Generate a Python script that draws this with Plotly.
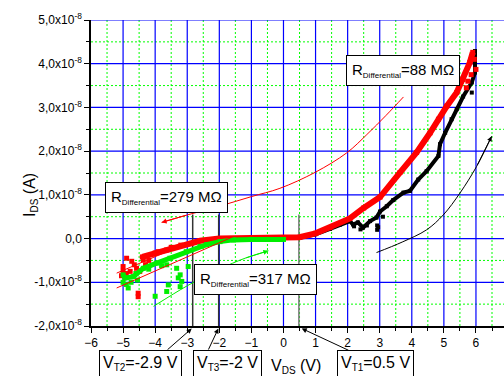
import plotly.graph_objects as go

# ---- data (I_DS in units of 1e-8 A, V_DS in V) ----
BLACK_X = [0.5, 1.0, 1.45, 1.76, 2.07, 2.17, 2.32, 2.48, 2.7, 2.9, 3.01, 3.22, 3.42, 3.74, 3.94, 4.2, 4.46, 4.83, 4.88, 5.04, 5.24, 5.4, 5.6, 5.87, 5.97, 5.97, 5.97]
BLACK_Y = [0.02, 0.1, 0.22, 0.32, 0.4, 0.32, 0.37, 0.25, 0.4, 0.48, 0.62, 0.74, 0.88, 1.05, 1.09, 1.35, 1.54, 1.89, 2.16, 2.42, 2.73, 2.96, 3.25, 3.57, 3.8, 4.03, 4.29]
BLACK_DOTS_X = [2.92, 2.92, 2.95, 2.4, 2.2, 5.87, 2.6, 3.1]
BLACK_DOTS_Y = [0.3, 0.2, 0.26, 0.21, 0.28, 3.34, 0.3, 0.5]

RED_X = [-4.4, -4.0, -3.64, -3.2, -2.6, -2.0, -1.0, 0.0, 0.5, 1.0, 1.45, 2.07, 2.5, 3.01, 3.63, 4.15, 4.57, 4.83, 5.09, 5.4, 5.6, 5.81, 5.9]
RED_Y = [-0.42, -0.33, -0.26, -0.15, -0.05, 0.0, 0.0, 0.01, 0.03, 0.12, 0.25, 0.46, 0.7, 0.95, 1.51, 1.97, 2.42, 2.73, 3.03, 3.34, 3.64, 4.03, 4.26]
RED_DOTS_X = [-5.0, -4.89, -4.73, -4.58, -4.78, -4.48, -4.53, -4.53, -4.37, -5.0, -4.9, -4.65, -4.2, -3.9, -5.05, 6.0, 5.75, 5.95, 5.7, 5.85, -4.3, -3.5]
RED_DOTS_Y = [-0.64, -0.45, -0.52, -0.68, -0.75, -0.75, -1.33, -1.25, -0.49, -0.75, -0.8, -0.6, -0.5, -0.3, -0.85, 3.87, 3.6, 4.1, 3.45, 3.75, -0.6, -0.2]

GREEN_X = [-5.0, -4.94, -4.68, -4.37, -3.95, -3.54, -3.03, -2.6, -2.4, -1.98, -1.56, -1.0, -0.5, 0.0]
GREEN_Y = [-0.83, -0.9, -0.87, -0.68, -0.56, -0.45, -0.3, -0.18, -0.14, -0.07, -0.03, -0.02, -0.02, -0.02]
GREEN_DOTS_X = [-4.84, -4.9, -4.75, -3.64, -3.33, -4.0, -3.64, -3.59, -3.22, -3.28, -3.17, -3.22, -2.97, -4.2, -4.55, -3.8, -5.0, -4.6]
GREEN_DOTS_Y = [-1.13, -1.05, -1.0, -0.6, -0.68, -1.32, -1.21, -1.06, -1.1, -0.9, -0.98, -0.83, -0.64, -0.7, -0.95, -0.62, -1.0, -0.8]

# thin fitted lines
RED_FIT1_X = [-5.2, -3.0]
RED_FIT1_Y = [-0.79, -0.1]
RED_FIT2_X = [-5.2, -1.55]
RED_FIT2_Y = [-1.13, 0.05]

# curved guide arrows
RED_ARROW_X = [3.74, 3.2, 2.6, 1.97, 1.0, -0.11, -1.0, -2.0, -3.0, -3.8]
RED_ARROW_Y = [3.24, 2.82, 2.38, 1.96, 1.52, 1.15, 0.96, 0.74, 0.54, 0.37]
BLACK_ARROW_X = [2.9, 3.7, 4.46, 4.98, 5.5, 6.02, 6.49]
BLACK_ARROW_Y = [-0.32, -0.08, 0.2, 0.54, 1.04, 1.65, 2.34]
GREEN_ARROW_X = [-4.05, -3.0, -2.0, -1.2, -0.47]
GREEN_ARROW_Y = [-1.55, -1.08, -0.7, -0.45, -0.28]

# threshold voltages
VT_X = [-2.83, -2.02, 0.48]
VT_TOP = 0.55
VT_COLORS = ["#333333", "#333333", "#777777"]
VT_LABELS = ["V<sub><span style='font-size:10px'>T2</span></sub>=-2.9 V",
             "V<sub><span style='font-size:10px'>T3</span></sub>=-2 V",
             "V<sub><span style='font-size:10px'>T1</span></sub>=0.5 V"]
VT_BOX_X = [-4.47, -1.73, 2.88]
VT_TIP_X = [-2.86, -2.03, 0.57]
VT_ARROW_DX = [-25.7, -10.6, 48.3]

R_LABELS = ["279", "317", "88"]
R_POS_X = [-3.65, -0.857, 3.73]
R_POS_Y = [0.93, -0.94, 3.84]

Y_TICKS = [-2, -1, 0, 1, 2, 3, 4, 5]
Y_TICKTEXT = ["-2,0x10<sup>-8</sup>", "-1,0x10<sup>-8</sup>", "0,0", "1,0x10<sup>-8</sup>",
              "2,0x10<sup>-8</sup>", "3,0x10<sup>-8</sup>", "4,0x10<sup>-8</sup>", "5,0x10<sup>-8</sup>"]
Y_MINOR = [-1.5, -0.5, 0.5, 1.5, 2.5, 3.5, 4.5]
X_TICKS = [-6, -5, -4, -3, -2, -1, 0, 1, 2, 3, 4, 5, 6]
X_MINOR = [-5.5, -4.5, -3.5, -2.5, -1.5, -0.5, 0.5, 1.5, 2.5, 3.5, 4.5, 5.5, 6.5]

FONT = "Liberation Sans, Arial, sans-serif"
GRID_MINOR = dict(color="#00ff00", width=1, dash="2px,2px")
GRID_MAJOR = dict(color="#0000ff", width=1.2)

fig = go.Figure()

# minor dotted grid (green)
for mx in X_MINOR:
    fig.add_shape(type="line", xref="x", yref="paper", x0=mx, x1=mx, y0=0, y1=1,
                  line=GRID_MINOR, layer="below")
for my in Y_MINOR:
    fig.add_shape(type="line", xref="paper", yref="y", x0=0, x1=1, y0=my, y1=my,
                  line=GRID_MINOR, layer="below")
# major grid (blue)
for mx in X_TICKS[1:]:
    fig.add_shape(type="line", xref="x", yref="paper", x0=mx, x1=mx, y0=0, y1=1,
                  line=GRID_MAJOR, layer="below")
for my in Y_TICKS[1:]:
    fig.add_shape(type="line", xref="paper", yref="y", x0=0, x1=1, y0=my, y1=my,
                  line=GRID_MAJOR, layer="below")

# vertical threshold lines
for vx, col in zip(VT_X, VT_COLORS):
    fig.add_trace(go.Scatter(x=[vx, vx], y=[-2, VT_TOP], mode="lines",
                             line=dict(color=col, width=1.5), hoverinfo="skip"))

# data
fig.add_trace(go.Scatter(x=BLACK_X, y=BLACK_Y, mode="lines+markers",
                         line=dict(color="black", width=4),
                         marker=dict(color="black", size=4, symbol="square")))
fig.add_trace(go.Scatter(x=BLACK_DOTS_X, y=BLACK_DOTS_Y, mode="markers",
                         marker=dict(color="black", size=4, symbol="square")))
fig.add_trace(go.Scatter(x=RED_X, y=RED_Y, mode="lines+markers",
                         line=dict(color="#ff0000", width=6),
                         marker=dict(color="#ff0000", size=5, symbol="square")))
fig.add_trace(go.Scatter(x=RED_DOTS_X, y=RED_DOTS_Y, mode="markers",
                         marker=dict(color="#ff0000", size=5, symbol="square")))
fig.add_trace(go.Scatter(x=GREEN_X, y=GREEN_Y, mode="lines+markers",
                         line=dict(color="#00ee00", width=5),
                         marker=dict(color="#00ee00", size=5, symbol="square")))
fig.add_trace(go.Scatter(x=GREEN_DOTS_X, y=GREEN_DOTS_Y, mode="markers",
                         marker=dict(color="#00ee00", size=5, symbol="square")))

# fitted lines
fig.add_trace(go.Scatter(x=RED_FIT1_X, y=RED_FIT1_Y, mode="lines", line=dict(color="#ff0000", width=1)))
fig.add_trace(go.Scatter(x=RED_FIT2_X, y=RED_FIT2_Y, mode="lines", line=dict(color="#ff0000", width=1)))

# curved arrows
for ax_, ay_, col in [(RED_ARROW_X, RED_ARROW_Y, "#ff0000"),
                      (BLACK_ARROW_X, BLACK_ARROW_Y, "black"),
                      (GREEN_ARROW_X, GREEN_ARROW_Y, "#00ee00")]:
    fig.add_trace(go.Scatter(x=ax_, y=ay_, mode="lines",
                             line=dict(color=col, width=1, shape="spline")))
    fig.add_annotation(x=ax_[-1], y=ay_[-1], ax=ax_[-2], ay=ay_[-2], xref="x", yref="y",
                       axref="x", ayref="y", showarrow=True, arrowhead=2, arrowsize=1,
                       arrowwidth=1, arrowcolor=col, text="")

# R boxes
for lab, px, py in zip(R_LABELS, R_POS_X, R_POS_Y):
    fig.add_annotation(x=px, y=py, xref="x", yref="y", showarrow=False,
                       xanchor="center", yanchor="middle",
                       text="R<sub><span style='font-size:8px'>Differential</span></sub>=" + lab + " M\u03a9",
                       font=dict(family=FONT, size=15, color="black"),
                       bgcolor="white", bordercolor="black", borderwidth=1, borderpad=5)

# VT boxes and arrows
BOX_TOP = (326 - 350) / 306.0
for lab, bx in zip(VT_LABELS, VT_BOX_X):
    fig.add_annotation(x=bx, y=BOX_TOP, xref="x", yref="paper", xanchor="center", yanchor="top",
                       showarrow=False, text=lab, font=dict(family=FONT, size=16, color="black"),
                       bgcolor="white", bordercolor="black", borderwidth=1, borderpad=3)
TIP_Y = (326 - 328.5) / 306.0
for tipx, dx in zip(VT_TIP_X, VT_ARROW_DX):
    fig.add_annotation(x=tipx, y=TIP_Y, xref="x", yref="paper", ax=dx, ay=22.5,
                       showarrow=True, arrowhead=2, arrowsize=1, arrowwidth=1,
                       arrowcolor="black", text="")

# axis titles
fig.add_annotation(x=(296 - 91) / 413.0, y=(326 - 366) / 306.0, xref="paper", yref="paper",
                   xanchor="center", yanchor="middle", showarrow=False,
                   text="V<sub><span style='font-size:10px'>DS</span></sub> (V)",
                   font=dict(family=FONT, size=16, color="black"))
fig.add_annotation(x=(30 - 91) / 413.0, y=(326 - 195) / 306.0, xref="paper", yref="paper",
                   xanchor="center", yanchor="middle", showarrow=False, textangle=-90,
                   text="I<sub><span style='font-size:10px'>DS</span></sub> (A)",
                   font=dict(family=FONT, size=16, color="black"))

AXIS_COMMON = dict(showgrid=False, zeroline=False,
                   showline=True, linecolor="black", linewidth=1.5, layer="above traces",
                   ticks="outside", ticklen=5, tickwidth=1, tickcolor="black",
                   tickfont=dict(family=FONT, size=12, color="black"))

fig.update_layout(
    width=504, height=376,
    margin=dict(l=91, r=0, t=20, b=50),
    paper_bgcolor="white", plot_bgcolor="white",
    showlegend=False,
    font=dict(family=FONT, size=12, color="black"),
    xaxis=dict(range=[-6, (504 - 91) / 32.08 - 6], tickmode="array", tickvals=X_TICKS,
               minor=dict(tickmode="array", tickvals=X_MINOR, showgrid=False,
                          ticks="outside", ticklen=3, tickcolor="black"),
               **AXIS_COMMON),
    yaxis=dict(range=[-2, 5], tickmode="array", tickvals=Y_TICKS, ticktext=Y_TICKTEXT,
               minor=dict(tickmode="array", tickvals=Y_MINOR, showgrid=False,
                          ticks="outside", ticklen=3, tickcolor="black"),
               **AXIS_COMMON),
)

fig.write_html("out.html")
